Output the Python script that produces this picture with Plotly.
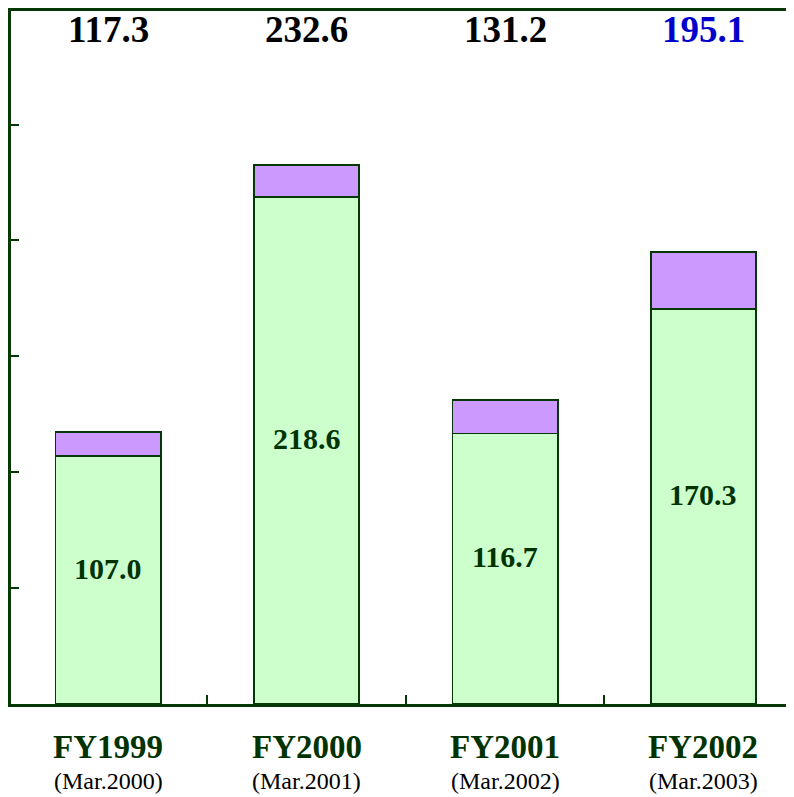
import plotly.graph_objects as go

years = ["FY1999", "FY2000", "FY2001", "FY2002"]
periods = ["(Mar.2000)", "(Mar.2001)", "(Mar.2002)", "(Mar.2003)"]
base_vals = [107.0, 218.6, 116.7, 170.3]
totals = [117.3, 232.6, 131.2, 195.1]
top_vals = [round(t - b, 1) for t, b in zip(totals, base_vals)]
total_colors = ["black", "black", "black", "#0000CC"]

dark = "#063806"
serif = "Liberation Serif, Times New Roman, serif"

fig = go.Figure()
fig.add_trace(go.Bar(
    x=years, y=base_vals, width=0.53,
    marker=dict(color="#CCFFCC", line=dict(color=dark, width=1.8)),
    hoverinfo="skip",
))
fig.add_trace(go.Bar(
    x=years, y=top_vals, width=0.53,
    marker=dict(color="#CC99FF", line=dict(color=dark, width=1.8)),
    hoverinfo="skip",
))

ann = []
for i, y in enumerate(years):
    # value inside the green bar
    ann.append(dict(x=y, y=base_vals[i] / 2, yshift=12, text="<b>%.1f</b>" % base_vals[i],
                    showarrow=False, yanchor="middle",
                    font=dict(family=serif, size=30, color="#003300")))
    # total on top
    ann.append(dict(x=y, y=0.974, yref="paper", text="<b>%.1f</b>" % totals[i],
                    showarrow=False, yanchor="middle",
                    font=dict(family=serif, size=37, color=total_colors[i])))
    ann.append(dict(x=y, y=-0.062, yref="paper", text="<b>%s</b>" % y,
                    showarrow=False, yanchor="middle",
                    font=dict(family=serif, size=33, color="#003300")))
    ann.append(dict(x=y, y=-0.111, yref="paper", text=periods[i],
                    showarrow=False, yanchor="middle",
                    font=dict(family=serif, size=24, color="black")))

# page body adds an 8px offset, so the figure is 8px smaller than the window
fig.update_layout(
    width=786, height=789,
    margin=dict(l=3, r=0, t=0, b=93),
    barmode="stack",
    showlegend=False,
    plot_bgcolor="white",
    paper_bgcolor="white",
    annotations=ann,
    xaxis=dict(range=[-0.489, 3.456], showline=True, linecolor=dark, linewidth=2.5,
               mirror=True, ticks="inside", tickson="boundaries", ticklen=9,
               tickcolor=dark, tickwidth=2, showticklabels=False, showgrid=False),
    yaxis=dict(range=[0, 299], dtick=50, showline=True, linecolor=dark, linewidth=2.5,
               ticks="inside", ticklen=8, tickcolor=dark, tickwidth=2,
               showticklabels=False, showgrid=False, zeroline=False),
)

fig.write_html("out.html")
